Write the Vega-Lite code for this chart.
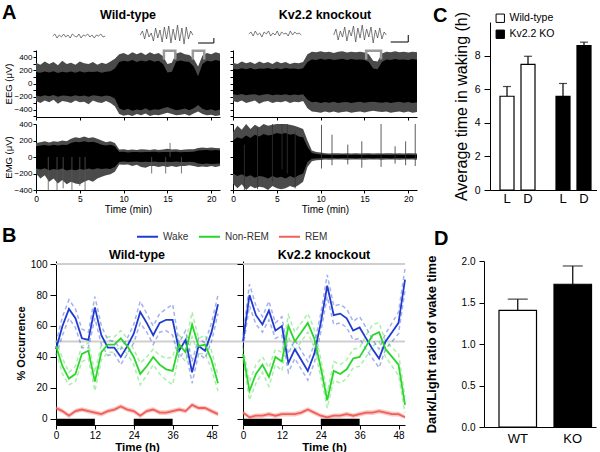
{
"$schema":"https://vega.github.io/schema/vega-lite/v6.json",
"background":"white",
"padding":{"left":2,"top":2,"right":0,"bottom":0},
"datasets":{
"eegWT":[{"t":0,"a":-185,"b":175,"c":-270,"d":320},{"t":0.5,"a":-200,"b":165,"c":-300,"d":290},{"t":1,"a":-180,"b":185,"c":-260,"d":340},{"t":1.5,"a":-195,"b":170,"c":-290,"d":300},{"t":2,"a":-175,"b":190,"c":-250,"d":330},{"t":2.5,"a":-205,"b":160,"c":-310,"d":280},{"t":3,"a":-185,"b":180,"c":-270,"d":350},{"t":3.5,"a":-190,"b":170,"c":-280,"d":300},{"t":4,"a":-200,"b":185,"c":-300,"d":320},{"t":4.5,"a":-180,"b":165,"c":-260,"d":290},{"t":5,"a":-195,"b":190,"c":-290,"d":340},{"t":5.5,"a":-185,"b":170,"c":-280,"d":310},{"t":6,"a":-205,"b":180,"c":-320,"d":300},{"t":6.5,"a":-180,"b":175,"c":-260,"d":330},{"t":7,"a":-190,"b":185,"c":-290,"d":290},{"t":7.5,"a":-200,"b":165,"c":-300,"d":320},{"t":8,"a":-185,"b":180,"c":-270,"d":300},{"t":8.5,"a":-195,"b":190,"c":-300,"d":340},{"t":9,"a":-230,"b":230,"c":-350,"d":380},{"t":9.5,"a":-380,"b":330,"c":-470,"d":450},{"t":10,"a":-410,"b":350,"c":-495,"d":470},{"t":10.5,"a":-390,"b":340,"c":-480,"d":440},{"t":11,"a":-420,"b":360,"c":-500,"d":480},{"t":11.5,"a":-400,"b":330,"c":-470,"d":450},{"t":12,"a":-410,"b":355,"c":-490,"d":475},{"t":12.5,"a":-380,"b":340,"c":-460,"d":440},{"t":13,"a":-415,"b":360,"c":-500,"d":480},{"t":13.5,"a":-395,"b":335,"c":-480,"d":450},{"t":14,"a":-405,"b":350,"c":-490,"d":470},{"t":14.5,"a":-380,"b":300,"c":-470,"d":420},{"t":15,"a":-360,"b":170,"c":-450,"d":300},{"t":15.5,"a":-390,"b":180,"c":-470,"d":320},{"t":16,"a":-410,"b":340,"c":-490,"d":460},{"t":16.5,"a":-400,"b":355,"c":-480,"d":480},{"t":17,"a":-385,"b":340,"c":-470,"d":450},{"t":17.5,"a":-410,"b":330,"c":-495,"d":440},{"t":18,"a":-380,"b":260,"c":-460,"d":380},{"t":18.5,"a":-330,"b":110,"c":-430,"d":260},{"t":19,"a":-390,"b":300,"c":-470,"d":430},{"t":19.5,"a":-410,"b":350,"c":-490,"d":470},{"t":20,"a":-395,"b":340,"c":-480,"d":450},{"t":20.5,"a":-420,"b":360,"c":-500,"d":480},{"t":21,"a":-400,"b":345,"c":-490,"d":460}],
"emgWT":[{"t":0,"a":-140,"b":130,"c":-200,"d":170},{"t":0.5,"a":-150,"b":140,"c":-260,"d":180},{"t":1,"a":-135,"b":145,"c":-220,"d":190},{"t":1.5,"a":-160,"b":135,"c":-300,"d":175},{"t":2,"a":-145,"b":150,"c":-260,"d":190},{"t":2.5,"a":-155,"b":140,"c":-320,"d":185},{"t":3,"a":-140,"b":150,"c":-280,"d":200},{"t":3.5,"a":-165,"b":145,"c":-330,"d":190},{"t":4,"a":-150,"b":170,"c":-300,"d":220},{"t":4.5,"a":-160,"b":185,"c":-320,"d":240},{"t":5,"a":-145,"b":180,"c":-330,"d":230},{"t":5.5,"a":-155,"b":190,"c":-300,"d":250},{"t":6,"a":-140,"b":180,"c":-280,"d":230},{"t":6.5,"a":-150,"b":185,"c":-300,"d":240},{"t":7,"a":-135,"b":170,"c":-260,"d":220},{"t":7.5,"a":-145,"b":150,"c":-240,"d":200},{"t":8,"a":-140,"b":140,"c":-220,"d":180},{"t":8.5,"a":-145,"b":150,"c":-210,"d":190},{"t":9,"a":-120,"b":130,"c":-180,"d":170},{"t":9.5,"a":-60,"b":60,"c":-90,"d":90},{"t":10,"a":-55,"b":65,"c":-95,"d":95},{"t":10.5,"a":-60,"b":55,"c":-90,"d":85},{"t":11,"a":-58,"b":62,"c":-110,"d":90},{"t":11.5,"a":-55,"b":60,"c":-95,"d":85},{"t":12,"a":-62,"b":58,"c":-120,"d":95},{"t":12.5,"a":-58,"b":62,"c":-130,"d":90},{"t":13,"a":-60,"b":60,"c":-110,"d":85},{"t":13.5,"a":-55,"b":65,"c":-110,"d":95},{"t":14,"a":-60,"b":58,"c":-120,"d":85},{"t":14.5,"a":-62,"b":60,"c":-110,"d":90},{"t":15,"a":-58,"b":62,"c":-120,"d":100},{"t":15.5,"a":-60,"b":60,"c":-110,"d":90},{"t":16,"a":-55,"b":65,"c":-120,"d":95},{"t":16.5,"a":-60,"b":58,"c":-110,"d":85},{"t":17,"a":-62,"b":60,"c":-110,"d":90},{"t":17.5,"a":-58,"b":62,"c":-100,"d":95},{"t":18,"a":-60,"b":65,"c":-110,"d":95},{"t":18.5,"a":-80,"b":80,"c":-120,"d":110},{"t":19,"a":-85,"b":82,"c":-115,"d":115},{"t":19.5,"a":-80,"b":85,"c":-120,"d":110},{"t":20,"a":-85,"b":80,"c":-110,"d":115},{"t":20.5,"a":-82,"b":84,"c":-120,"d":110},{"t":21,"a":-80,"b":80,"c":-110,"d":105}],
"eegKO":[{"t":0,"a":-165,"b":225,"c":-270,"d":320},{"t":0.5,"a":-175,"b":215,"c":-290,"d":300},{"t":1,"a":-160,"b":235,"c":-260,"d":340},{"t":1.5,"a":-180,"b":220,"c":-300,"d":310},{"t":2,"a":-170,"b":240,"c":-280,"d":330},{"t":2.5,"a":-165,"b":215,"c":-260,"d":300},{"t":3,"a":-185,"b":230,"c":-310,"d":340},{"t":3.5,"a":-170,"b":225,"c":-280,"d":310},{"t":4,"a":-160,"b":240,"c":-270,"d":330},{"t":4.5,"a":-180,"b":220,"c":-300,"d":300},{"t":5,"a":-170,"b":235,"c":-280,"d":340},{"t":5.5,"a":-175,"b":220,"c":-290,"d":310},{"t":6,"a":-165,"b":240,"c":-270,"d":330},{"t":6.5,"a":-180,"b":225,"c":-300,"d":300},{"t":7,"a":-170,"b":230,"c":-280,"d":320},{"t":7.5,"a":-175,"b":220,"c":-290,"d":310},{"t":8,"a":-165,"b":235,"c":-270,"d":330},{"t":8.5,"a":-250,"b":330,"c":-380,"d":450},{"t":9,"a":-290,"b":370,"c":-430,"d":490},{"t":9.5,"a":-280,"b":360,"c":-440,"d":480},{"t":10,"a":-300,"b":380,"c":-450,"d":495},{"t":10.5,"a":-285,"b":365,"c":-430,"d":480},{"t":11,"a":-295,"b":375,"c":-445,"d":490},{"t":11.5,"a":-280,"b":360,"c":-430,"d":470},{"t":12,"a":-300,"b":370,"c":-450,"d":490},{"t":12.5,"a":-290,"b":380,"c":-440,"d":495},{"t":13,"a":-285,"b":360,"c":-430,"d":475},{"t":13.5,"a":-300,"b":375,"c":-450,"d":490},{"t":14,"a":-290,"b":365,"c":-440,"d":480},{"t":14.5,"a":-280,"b":370,"c":-430,"d":490},{"t":15,"a":-295,"b":360,"c":-445,"d":475},{"t":15.5,"a":-285,"b":330,"c":-430,"d":450},{"t":16,"a":-280,"b":230,"c":-420,"d":350},{"t":16.5,"a":-290,"b":220,"c":-430,"d":340},{"t":17,"a":-295,"b":330,"c":-440,"d":460},{"t":17.5,"a":-285,"b":370,"c":-430,"d":490},{"t":18,"a":-300,"b":360,"c":-450,"d":480},{"t":18.5,"a":-290,"b":375,"c":-440,"d":495},{"t":19,"a":-280,"b":365,"c":-430,"d":480},{"t":19.5,"a":-295,"b":370,"c":-445,"d":490},{"t":20,"a":-285,"b":360,"c":-430,"d":475},{"t":20.5,"a":-300,"b":375,"c":-450,"d":490},{"t":21,"a":-290,"b":365,"c":-440,"d":480}],
"emgKO":[{"t":0,"a":-200,"b":200,"c":-320,"d":300},{"t":0.5,"a":-230,"b":240,"c":-380,"d":380},{"t":1,"a":-210,"b":220,"c":-330,"d":330},{"t":1.5,"a":-240,"b":260,"c":-400,"d":400},{"t":2,"a":-220,"b":230,"c":-350,"d":340},{"t":2.5,"a":-250,"b":270,"c":-380,"d":390},{"t":3,"a":-230,"b":250,"c":-360,"d":360},{"t":3.5,"a":-240,"b":280,"c":-370,"d":400},{"t":4,"a":-260,"b":260,"c":-400,"d":380},{"t":4.5,"a":-230,"b":270,"c":-350,"d":390},{"t":5,"a":-250,"b":290,"c":-380,"d":400},{"t":5.5,"a":-240,"b":280,"c":-390,"d":400},{"t":6,"a":-260,"b":290,"c":-380,"d":400},{"t":6.5,"a":-230,"b":270,"c":-350,"d":390},{"t":7,"a":-250,"b":280,"c":-370,"d":380},{"t":7.5,"a":-220,"b":250,"c":-340,"d":360},{"t":8,"a":-200,"b":240,"c":-300,"d":340},{"t":8.5,"a":-60,"b":120,"c":-120,"d":200},{"t":9,"a":-22,"b":50,"c":-50,"d":80},{"t":9.5,"a":-18,"b":35,"c":-40,"d":60},{"t":10,"a":-15,"b":30,"c":-35,"d":55},{"t":10.5,"a":-12,"b":26,"c":-30,"d":45},{"t":11,"a":-13,"b":24,"c":-32,"d":42},{"t":11.5,"a":-12,"b":25,"c":-30,"d":45},{"t":12,"a":-14,"b":24,"c":-31,"d":44},{"t":12.5,"a":-12,"b":26,"c":-30,"d":42},{"t":13,"a":-13,"b":25,"c":-32,"d":45},{"t":13.5,"a":-12,"b":24,"c":-30,"d":43},{"t":14,"a":-14,"b":26,"c":-31,"d":45},{"t":14.5,"a":-12,"b":25,"c":-30,"d":42},{"t":15,"a":-13,"b":24,"c":-32,"d":44},{"t":15.5,"a":-12,"b":26,"c":-30,"d":45},{"t":16,"a":-14,"b":25,"c":-31,"d":43},{"t":16.5,"a":-12,"b":24,"c":-30,"d":45},{"t":17,"a":-13,"b":26,"c":-32,"d":42},{"t":17.5,"a":-12,"b":25,"c":-30,"d":44},{"t":18,"a":-14,"b":24,"c":-31,"d":45},{"t":18.5,"a":-12,"b":26,"c":-30,"d":43},{"t":19,"a":-13,"b":25,"c":-32,"d":45},{"t":19.5,"a":-12,"b":24,"c":-30,"d":42},{"t":20,"a":-14,"b":26,"c":-31,"d":44},{"t":20.5,"a":-12,"b":25,"c":-30,"d":45},{"t":21,"a":-13,"b":24,"c":-32,"d":43}],
"spk":[{"p":"WT","t":1.4,"lo":-400,"hi":0},{"p":"WT","t":2.4,"lo":-400,"hi":0},{"p":"WT","t":3.1,"lo":-380,"hi":0},{"p":"WT","t":4.1,"lo":-400,"hi":0},{"p":"WT","t":5.0,"lo":-350,"hi":0},{"p":"WT","t":5.6,"lo":-400,"hi":0},{"p":"WT","t":13.2,"lo":-200,"hi":0},{"p":"WT","t":14.8,"lo":-200,"hi":0},{"p":"WT","t":15.3,"lo":0,"hi":170},{"p":"WT","t":16.6,"lo":-200,"hi":0},{"p":"KO","t":1.3,"lo":-400,"hi":150},{"p":"KO","t":2.8,"lo":-390,"hi":350},{"p":"KO","t":4.5,"lo":-300,"hi":400},{"p":"KO","t":5.6,"lo":-150,"hi":400},{"p":"KO","t":6.2,"lo":-200,"hi":400},{"p":"KO","t":7.1,"lo":-380,"hi":300},{"p":"KO","t":10.1,"lo":-140,"hi":390},{"p":"KO","t":11.3,"lo":-100,"hi":270},{"p":"KO","t":13.1,"lo":-90,"hi":150},{"p":"KO","t":14.7,"lo":-130,"hi":190},{"p":"KO","t":16.9,"lo":-120,"hi":400},{"p":"KO","t":18.5,"lo":-80,"hi":130},{"p":"KO","t":19.7,"lo":-100,"hi":190},{"p":"KO","t":20.8,"lo":-110,"hi":400}],
"brk":[{"p":"WT","k":1,"o":0,"x":14.6,"y":370},{"p":"WT","k":1,"o":1,"x":14.6,"y":505},{"p":"WT","k":1,"o":2,"x":15.9,"y":505},{"p":"WT","k":1,"o":3,"x":15.9,"y":370},{"p":"WT","k":2,"o":0,"x":17.9,"y":370},{"p":"WT","k":2,"o":1,"x":17.9,"y":505},{"p":"WT","k":2,"o":2,"x":19.2,"y":505},{"p":"WT","k":2,"o":3,"x":19.2,"y":370},{"p":"KO","k":3,"o":0,"x":15.2,"y":370},{"p":"KO","k":3,"o":1,"x":15.2,"y":505},{"p":"KO","k":3,"o":2,"x":16.9,"y":505},{"p":"KO","k":3,"o":3,"x":16.9,"y":370}],
"bar":[{"p":"WT","o":0,"x":18.5,"y":0},{"p":"WT","o":1,"x":20.3,"y":0},{"p":"WT","o":2,"x":20.3,"y":5},{"p":"KO","o":0,"x":18.0,"y":1},{"p":"KO","o":1,"x":20.0,"y":1},{"p":"KO","o":2,"x":20.0,"y":8}],
"ins":[
{"p":"WT","k":1,"x":1.9,"y":7},{"p":"WT","k":1,"x":2.15,"y":9},{"p":"WT","k":1,"x":2.4,"y":5},{"p":"WT","k":1,"x":2.65,"y":8},{"p":"WT","k":1,"x":2.9,"y":6},{"p":"WT","k":1,"x":3.15,"y":9},{"p":"WT","k":1,"x":3.4,"y":6},{"p":"WT","k":1,"x":3.65,"y":8},{"p":"WT","k":1,"x":3.9,"y":5},{"p":"WT","k":1,"x":4.15,"y":9},{"p":"WT","k":1,"x":4.4,"y":7},{"p":"WT","k":1,"x":4.65,"y":6},{"p":"WT","k":1,"x":4.9,"y":9},{"p":"WT","k":1,"x":5.15,"y":5},{"p":"WT","k":1,"x":5.4,"y":8},{"p":"WT","k":1,"x":5.65,"y":7},{"p":"WT","k":1,"x":5.9,"y":9},{"p":"WT","k":1,"x":6.15,"y":6},{"p":"WT","k":1,"x":6.4,"y":8},{"p":"WT","k":1,"x":6.65,"y":5},{"p":"WT","k":1,"x":6.9,"y":8},{"p":"WT","k":1,"x":7.15,"y":7},{"p":"WT","k":1,"x":7.4,"y":9},{"p":"WT","k":1,"x":7.65,"y":6},{"p":"WT","k":1,"x":7.9,"y":7},
{"p":"WT","k":2,"x":11.9,"y":8},{"p":"WT","k":2,"x":12.15,"y":12},{"p":"WT","k":2,"x":12.4,"y":4},{"p":"WT","k":2,"x":12.65,"y":14},{"p":"WT","k":2,"x":12.9,"y":6},{"p":"WT","k":2,"x":13.15,"y":10},{"p":"WT","k":2,"x":13.4,"y":2},{"p":"WT","k":2,"x":13.65,"y":15},{"p":"WT","k":2,"x":13.9,"y":5},{"p":"WT","k":2,"x":14.15,"y":13},{"p":"WT","k":2,"x":14.4,"y":1},{"p":"WT","k":2,"x":14.65,"y":16},{"p":"WT","k":2,"x":14.9,"y":4},{"p":"WT","k":2,"x":15.15,"y":17},{"p":"WT","k":2,"x":15.4,"y":0},{"p":"WT","k":2,"x":15.65,"y":14},{"p":"WT","k":2,"x":15.9,"y":3},{"p":"WT","k":2,"x":16.15,"y":18},{"p":"WT","k":2,"x":16.4,"y":2},{"p":"WT","k":2,"x":16.65,"y":15},{"p":"WT","k":2,"x":16.9,"y":-1},{"p":"WT","k":2,"x":17.15,"y":16},{"p":"WT","k":2,"x":17.4,"y":4},{"p":"WT","k":2,"x":17.65,"y":12},{"p":"WT","k":2,"x":17.9,"y":8},
{"p":"KO","k":1,"x":1.8,"y":9},{"p":"KO","k":1,"x":2.05,"y":11},{"p":"KO","k":1,"x":2.3,"y":7},{"p":"KO","k":1,"x":2.55,"y":12},{"p":"KO","k":1,"x":2.8,"y":8},{"p":"KO","k":1,"x":3.05,"y":10},{"p":"KO","k":1,"x":3.3,"y":6},{"p":"KO","k":1,"x":3.55,"y":11},{"p":"KO","k":1,"x":3.8,"y":9},{"p":"KO","k":1,"x":4.05,"y":12},{"p":"KO","k":1,"x":4.3,"y":7},{"p":"KO","k":1,"x":4.55,"y":10},{"p":"KO","k":1,"x":4.8,"y":8},{"p":"KO","k":1,"x":5.05,"y":12},{"p":"KO","k":1,"x":5.3,"y":7},{"p":"KO","k":1,"x":5.55,"y":11},{"p":"KO","k":1,"x":5.8,"y":9},{"p":"KO","k":1,"x":6.05,"y":10},{"p":"KO","k":1,"x":6.3,"y":7},{"p":"KO","k":1,"x":6.55,"y":12},{"p":"KO","k":1,"x":6.8,"y":8},{"p":"KO","k":1,"x":7.05,"y":11},{"p":"KO","k":1,"x":7.3,"y":9},{"p":"KO","k":1,"x":7.55,"y":10},{"p":"KO","k":1,"x":7.8,"y":8},
{"p":"KO","k":2,"x":11.5,"y":8},{"p":"KO","k":2,"x":11.75,"y":14},{"p":"KO","k":2,"x":12.0,"y":3},{"p":"KO","k":2,"x":12.25,"y":12},{"p":"KO","k":2,"x":12.5,"y":6},{"p":"KO","k":2,"x":12.75,"y":16},{"p":"KO","k":2,"x":13.0,"y":2},{"p":"KO","k":2,"x":13.25,"y":13},{"p":"KO","k":2,"x":13.5,"y":7},{"p":"KO","k":2,"x":13.75,"y":17},{"p":"KO","k":2,"x":14.0,"y":1},{"p":"KO","k":2,"x":14.25,"y":15},{"p":"KO","k":2,"x":14.5,"y":5},{"p":"KO","k":2,"x":14.75,"y":18},{"p":"KO","k":2,"x":15.0,"y":3},{"p":"KO","k":2,"x":15.25,"y":14},{"p":"KO","k":2,"x":15.5,"y":6},{"p":"KO","k":2,"x":15.75,"y":16},{"p":"KO","k":2,"x":16.0,"y":0},{"p":"KO","k":2,"x":16.25,"y":13},{"p":"KO","k":2,"x":16.5,"y":5},{"p":"KO","k":2,"x":16.75,"y":15},{"p":"KO","k":2,"x":17.0,"y":4},{"p":"KO","k":2,"x":17.25,"y":11},{"p":"KO","k":2,"x":17.5,"y":8}],
"dark":[{"t":0,"t2":12},{"t":24,"t2":36}],
"refs":[{"r":100},{"r":50}],
"occ":[
{"g":"WT","s":"Wake","t":0,"v":45,"lo":41,"hi":49},{"g":"WT","s":"Wake","t":2,"v":60,"lo":54,"hi":66},{"g":"WT","s":"Wake","t":4,"v":71,"lo":65,"hi":77},{"g":"WT","s":"Wake","t":6,"v":65,"lo":59,"hi":71},{"g":"WT","s":"Wake","t":8,"v":52,"lo":46,"hi":58},{"g":"WT","s":"Wake","t":10,"v":51,"lo":46,"hi":56},{"g":"WT","s":"Wake","t":12,"v":72,"lo":65,"hi":79},{"g":"WT","s":"Wake","t":14,"v":54,"lo":48,"hi":60},{"g":"WT","s":"Wake","t":16,"v":46,"lo":41,"hi":51},{"g":"WT","s":"Wake","t":18,"v":46,"lo":42,"hi":50},{"g":"WT","s":"Wake","t":20,"v":40,"lo":35,"hi":45},{"g":"WT","s":"Wake","t":22,"v":47,"lo":42,"hi":52},{"g":"WT","s":"Wake","t":24,"v":55,"lo":49,"hi":61},{"g":"WT","s":"Wake","t":26,"v":69,"lo":62,"hi":76},{"g":"WT","s":"Wake","t":28,"v":62,"lo":56,"hi":68},{"g":"WT","s":"Wake","t":30,"v":54,"lo":48,"hi":60},{"g":"WT","s":"Wake","t":32,"v":62,"lo":56,"hi":68},{"g":"WT","s":"Wake","t":34,"v":64,"lo":57,"hi":71},{"g":"WT","s":"Wake","t":36,"v":64,"lo":54,"hi":74},{"g":"WT","s":"Wake","t":38,"v":44,"lo":39,"hi":49},{"g":"WT","s":"Wake","t":40,"v":51,"lo":45,"hi":57},{"g":"WT","s":"Wake","t":42,"v":30,"lo":23,"hi":37},{"g":"WT","s":"Wake","t":44,"v":47,"lo":42,"hi":52},{"g":"WT","s":"Wake","t":46,"v":44,"lo":39,"hi":49},{"g":"WT","s":"Wake","t":48,"v":56,"lo":50,"hi":62},{"g":"WT","s":"Wake","t":50,"v":74,"lo":68,"hi":80},
{"g":"WT","s":"Non-REM","t":0,"v":47,"lo":43,"hi":51},{"g":"WT","s":"Non-REM","t":2,"v":34,"lo":29,"hi":39},{"g":"WT","s":"Non-REM","t":4,"v":26,"lo":22,"hi":30},{"g":"WT","s":"Non-REM","t":6,"v":29,"lo":24,"hi":34},{"g":"WT","s":"Non-REM","t":8,"v":42,"lo":37,"hi":47},{"g":"WT","s":"Non-REM","t":10,"v":44,"lo":39,"hi":49},{"g":"WT","s":"Non-REM","t":12,"v":24,"lo":18,"hi":30},{"g":"WT","s":"Non-REM","t":14,"v":43,"lo":38,"hi":48},{"g":"WT","s":"Non-REM","t":16,"v":48,"lo":43,"hi":53},{"g":"WT","s":"Non-REM","t":18,"v":48,"lo":43,"hi":53},{"g":"WT","s":"Non-REM","t":20,"v":52,"lo":47,"hi":57},{"g":"WT","s":"Non-REM","t":22,"v":47,"lo":42,"hi":52},{"g":"WT","s":"Non-REM","t":24,"v":40,"lo":35,"hi":45},{"g":"WT","s":"Non-REM","t":26,"v":29,"lo":22,"hi":36},{"g":"WT","s":"Non-REM","t":28,"v":34,"lo":28,"hi":40},{"g":"WT","s":"Non-REM","t":30,"v":40,"lo":35,"hi":45},{"g":"WT","s":"Non-REM","t":32,"v":35,"lo":29,"hi":41},{"g":"WT","s":"Non-REM","t":34,"v":32,"lo":25,"hi":39},{"g":"WT","s":"Non-REM","t":36,"v":31,"lo":22,"hi":40},{"g":"WT","s":"Non-REM","t":38,"v":48,"lo":42,"hi":54},{"g":"WT","s":"Non-REM","t":40,"v":43,"lo":37,"hi":49},{"g":"WT","s":"Non-REM","t":42,"v":61,"lo":53,"hi":69},{"g":"WT","s":"Non-REM","t":44,"v":47,"lo":42,"hi":52},{"g":"WT","s":"Non-REM","t":46,"v":48,"lo":42,"hi":54},{"g":"WT","s":"Non-REM","t":48,"v":38,"lo":32,"hi":44},{"g":"WT","s":"Non-REM","t":50,"v":23,"lo":18,"hi":28},
{"g":"WT","s":"REM","t":0,"v":7,"lo":5.5,"hi":8.5},{"g":"WT","s":"REM","t":2,"v":5,"lo":3.5,"hi":6.5},{"g":"WT","s":"REM","t":4,"v":2,"lo":0.5,"hi":3.5},{"g":"WT","s":"REM","t":6,"v":5,"lo":3.5,"hi":6.5},{"g":"WT","s":"REM","t":8,"v":6,"lo":4.5,"hi":7.5},{"g":"WT","s":"REM","t":10,"v":5,"lo":3.5,"hi":6.5},{"g":"WT","s":"REM","t":12,"v":4,"lo":2.5,"hi":5.5},{"g":"WT","s":"REM","t":14,"v":3,"lo":1.5,"hi":4.5},{"g":"WT","s":"REM","t":16,"v":5,"lo":3.5,"hi":6.5},{"g":"WT","s":"REM","t":18,"v":6,"lo":4.5,"hi":7.5},{"g":"WT","s":"REM","t":20,"v":8,"lo":6.5,"hi":9.5},{"g":"WT","s":"REM","t":22,"v":6,"lo":4.5,"hi":7.5},{"g":"WT","s":"REM","t":24,"v":5,"lo":3.5,"hi":6.5},{"g":"WT","s":"REM","t":26,"v":2,"lo":0.5,"hi":3.5},{"g":"WT","s":"REM","t":28,"v":5,"lo":3.5,"hi":6.5},{"g":"WT","s":"REM","t":30,"v":6,"lo":4.5,"hi":7.5},{"g":"WT","s":"REM","t":32,"v":4,"lo":2.5,"hi":5.5},{"g":"WT","s":"REM","t":34,"v":4,"lo":2.5,"hi":5.5},{"g":"WT","s":"REM","t":36,"v":5,"lo":3.5,"hi":6.5},{"g":"WT","s":"REM","t":38,"v":6,"lo":4.5,"hi":7.5},{"g":"WT","s":"REM","t":40,"v":5,"lo":3.5,"hi":6.5},{"g":"WT","s":"REM","t":42,"v":9,"lo":7.5,"hi":10.5},{"g":"WT","s":"REM","t":44,"v":7,"lo":5.5,"hi":8.5},{"g":"WT","s":"REM","t":46,"v":7,"lo":5.5,"hi":8.5},{"g":"WT","s":"REM","t":48,"v":5,"lo":3.5,"hi":6.5},{"g":"WT","s":"REM","t":50,"v":3,"lo":1.5,"hi":4.5},
{"g":"KO","s":"Wake","t":0,"v":50,"lo":46,"hi":54},{"g":"KO","s":"Wake","t":2,"v":80,"lo":73,"hi":87},{"g":"KO","s":"Wake","t":4,"v":67,"lo":61,"hi":73},{"g":"KO","s":"Wake","t":6,"v":61,"lo":56,"hi":66},{"g":"KO","s":"Wake","t":8,"v":70,"lo":64,"hi":76},{"g":"KO","s":"Wake","t":10,"v":57,"lo":52,"hi":62},{"g":"KO","s":"Wake","t":12,"v":60,"lo":54,"hi":66},{"g":"KO","s":"Wake","t":14,"v":36,"lo":30,"hi":42},{"g":"KO","s":"Wake","t":16,"v":45,"lo":39,"hi":51},{"g":"KO","s":"Wake","t":18,"v":38,"lo":32,"hi":44},{"g":"KO","s":"Wake","t":20,"v":31,"lo":25,"hi":37},{"g":"KO","s":"Wake","t":22,"v":42,"lo":36,"hi":48},{"g":"KO","s":"Wake","t":24,"v":62,"lo":56,"hi":68},{"g":"KO","s":"Wake","t":26,"v":86,"lo":79,"hi":93},{"g":"KO","s":"Wake","t":28,"v":67,"lo":61,"hi":73},{"g":"KO","s":"Wake","t":30,"v":68,"lo":62,"hi":74},{"g":"KO","s":"Wake","t":32,"v":65,"lo":59,"hi":71},{"g":"KO","s":"Wake","t":34,"v":57,"lo":51,"hi":63},{"g":"KO","s":"Wake","t":36,"v":59,"lo":52,"hi":66},{"g":"KO","s":"Wake","t":38,"v":52,"lo":45,"hi":59},{"g":"KO","s":"Wake","t":40,"v":45,"lo":39,"hi":51},{"g":"KO","s":"Wake","t":42,"v":39,"lo":33,"hi":45},{"g":"KO","s":"Wake","t":44,"v":50,"lo":45,"hi":55},{"g":"KO","s":"Wake","t":46,"v":56,"lo":50,"hi":62},{"g":"KO","s":"Wake","t":48,"v":62,"lo":55,"hi":69},{"g":"KO","s":"Wake","t":50,"v":90,"lo":83,"hi":97},
{"g":"KO","s":"Non-REM","t":0,"v":42,"lo":38,"hi":46},{"g":"KO","s":"Non-REM","t":2,"v":18,"lo":12,"hi":24},{"g":"KO","s":"Non-REM","t":4,"v":29,"lo":23,"hi":35},{"g":"KO","s":"Non-REM","t":6,"v":35,"lo":30,"hi":40},{"g":"KO","s":"Non-REM","t":8,"v":27,"lo":21,"hi":33},{"g":"KO","s":"Non-REM","t":10,"v":40,"lo":35,"hi":45},{"g":"KO","s":"Non-REM","t":12,"v":37,"lo":31,"hi":43},{"g":"KO","s":"Non-REM","t":14,"v":60,"lo":53,"hi":67},{"g":"KO","s":"Non-REM","t":16,"v":50,"lo":44,"hi":56},{"g":"KO","s":"Non-REM","t":18,"v":56,"lo":50,"hi":62},{"g":"KO","s":"Non-REM","t":20,"v":62,"lo":56,"hi":68},{"g":"KO","s":"Non-REM","t":22,"v":52,"lo":46,"hi":58},{"g":"KO","s":"Non-REM","t":24,"v":33,"lo":27,"hi":39},{"g":"KO","s":"Non-REM","t":26,"v":12,"lo":7,"hi":17},{"g":"KO","s":"Non-REM","t":28,"v":31,"lo":25,"hi":37},{"g":"KO","s":"Non-REM","t":30,"v":29,"lo":23,"hi":35},{"g":"KO","s":"Non-REM","t":32,"v":32,"lo":26,"hi":38},{"g":"KO","s":"Non-REM","t":34,"v":39,"lo":33,"hi":45},{"g":"KO","s":"Non-REM","t":36,"v":40,"lo":34,"hi":46},{"g":"KO","s":"Non-REM","t":38,"v":47,"lo":40,"hi":54},{"g":"KO","s":"Non-REM","t":40,"v":54,"lo":47,"hi":61},{"g":"KO","s":"Non-REM","t":42,"v":56,"lo":50,"hi":62},{"g":"KO","s":"Non-REM","t":44,"v":45,"lo":40,"hi":50},{"g":"KO","s":"Non-REM","t":46,"v":40,"lo":34,"hi":46},{"g":"KO","s":"Non-REM","t":48,"v":35,"lo":28,"hi":42},{"g":"KO","s":"Non-REM","t":50,"v":9,"lo":4,"hi":14},
{"g":"KO","s":"REM","t":0,"v":4,"lo":2.5,"hi":5.5},{"g":"KO","s":"REM","t":2,"v":1,"lo":0,"hi":2.5},{"g":"KO","s":"REM","t":4,"v":2,"lo":0.5,"hi":3.5},{"g":"KO","s":"REM","t":6,"v":2,"lo":0.5,"hi":3.5},{"g":"KO","s":"REM","t":8,"v":3,"lo":1.5,"hi":4.5},{"g":"KO","s":"REM","t":10,"v":2,"lo":0.5,"hi":3.5},{"g":"KO","s":"REM","t":12,"v":3,"lo":1.5,"hi":4.5},{"g":"KO","s":"REM","t":14,"v":3,"lo":1.5,"hi":4.5},{"g":"KO","s":"REM","t":16,"v":3,"lo":1.5,"hi":4.5},{"g":"KO","s":"REM","t":18,"v":4,"lo":2.5,"hi":5.5},{"g":"KO","s":"REM","t":20,"v":6,"lo":4.5,"hi":7.5},{"g":"KO","s":"REM","t":22,"v":4,"lo":2.5,"hi":5.5},{"g":"KO","s":"REM","t":24,"v":2,"lo":0.5,"hi":3.5},{"g":"KO","s":"REM","t":26,"v":1,"lo":0,"hi":2.5},{"g":"KO","s":"REM","t":28,"v":2,"lo":0.5,"hi":3.5},{"g":"KO","s":"REM","t":30,"v":2,"lo":0.5,"hi":3.5},{"g":"KO","s":"REM","t":32,"v":3,"lo":1.5,"hi":4.5},{"g":"KO","s":"REM","t":34,"v":2,"lo":0.5,"hi":3.5},{"g":"KO","s":"REM","t":36,"v":3,"lo":1.5,"hi":4.5},{"g":"KO","s":"REM","t":38,"v":4,"lo":2.5,"hi":5.5},{"g":"KO","s":"REM","t":40,"v":4,"lo":2.5,"hi":5.5},{"g":"KO","s":"REM","t":42,"v":5,"lo":3.5,"hi":6.5},{"g":"KO","s":"REM","t":44,"v":4,"lo":2.5,"hi":5.5},{"g":"KO","s":"REM","t":46,"v":3,"lo":1.5,"hi":4.5},{"g":"KO","s":"REM","t":48,"v":3,"lo":1.5,"hi":4.5},{"g":"KO","s":"REM","t":50,"v":1,"lo":0,"hi":2.5}],
"wc":[{"g":"WT","p":"L","v":5.58,"hi":6.16},{"g":"WT","p":"D","v":7.48,"hi":7.96},{"g":"KO","p":"L","v":5.57,"hi":6.34},{"g":"KO","p":"D","v":8.6,"hi":8.8}],
"rd":[{"g":"WT","v":1.405,"hi":1.54},{"g":"KO","v":1.72,"hi":1.94}]
},
"concat":[
{"hconcat":[
 {"title":{"text":"A","anchor":"start","frame":"group","fontSize":20,"offset":-14,"dx":-34},
  "hconcat":[
  {"vconcat":[
   {"width":184,"height":21,"title":{"text":"Wild-type","fontSize":12.5,"offset":1},
    "layer":[
     {"data":{"name":"ins"},"transform":[{"filter":"datum.p=='WT'"}],"mark":{"type":"line","color":"#444","strokeWidth":0.7},
      "encoding":{"x":{"field":"x","type":"quantitative","scale":{"domain":[0,21]},"axis":null},"y":{"field":"y","type":"quantitative","scale":{"domain":[0,21]},"axis":null},"detail":{"field":"k"}}},
     {"data":{"name":"bar"},"transform":[{"filter":"datum.p=='WT'"}],"mark":{"type":"line","color":"black","strokeWidth":1},
      "encoding":{"x":{"field":"x","type":"quantitative","scale":{"domain":[0,21]},"axis":null},"y":{"field":"y","type":"quantitative","scale":{"domain":[0,21]},"axis":null},"order":{"field":"o"}}}]},
   {"width":184,"height":67,
    "layer":[
     {"data":{"name":"eegWT"},"mark":{"type":"area","color":"#4a4a4a"},
      "encoding":{"x":{"field":"t","type":"quantitative","scale":{"domain":[0,21]},"axis":{"values":[0,5,10,15,20],"tickCount":50,"labels":false,"title":null,"tickSize":3}},
       "y":{"field":"c","type":"quantitative","scale":{"domain":[-515,515]},"axis":{"values":[-500,-400,-300,-200,-100,0,100,200,300,400,500],"tickCount":50,"format":"d","labelExpr":"(datum.value % 200 == 0 && abs(datum.value) < 500) ? datum.label : ''","title":"EEG (μV)","tickSize":3,"labelFontSize":8,"labelPadding":1,"titleFontSize":9.5,"titlePadding":0}},"y2":{"field":"d"}}},
     {"data":{"name":"eegWT"},"mark":{"type":"area","color":"black"},
      "encoding":{"x":{"field":"t","type":"quantitative","scale":{"domain":[0,21]}},"y":{"field":"a","type":"quantitative","scale":{"domain":[-515,515]}},"y2":{"field":"b"}}},
     {"data":{"name":"brk"},"transform":[{"filter":"datum.p=='WT'"}],"mark":{"type":"line","color":"#9a9a9a","strokeWidth":2.5},
      "encoding":{"x":{"field":"x","type":"quantitative","scale":{"domain":[0,21]}},"y":{"field":"y","type":"quantitative","scale":{"domain":[-515,515]}},"detail":{"field":"k"},"order":{"field":"o"}}}]},
   {"width":184,"height":66,
    "layer":[
     {"data":{"name":"emgWT"},"mark":{"type":"area","color":"#4a4a4a"},
      "encoding":{"x":{"field":"t","type":"quantitative","scale":{"domain":[0,21]},"axis":{"values":[0,5,10,15,20],"tickCount":50,"format":"d","title":"Time (min)","tickSize":3,"labelFontSize":8.5,"labelPadding":1,"titleFontSize":10,"titlePadding":2}},
       "y":{"field":"c","type":"quantitative","scale":{"domain":[-400,400]},"axis":{"values":[-400,-200,0,200,400],"tickCount":50,"format":"d","title":"EMG (μV)","tickSize":3,"labelFontSize":8,"labelPadding":1,"titleFontSize":9.5,"titlePadding":0}},"y2":{"field":"d"}}},
     {"data":{"name":"emgWT"},"mark":{"type":"area","color":"black"},
      "encoding":{"x":{"field":"t","type":"quantitative","scale":{"domain":[0,21]}},"y":{"field":"a","type":"quantitative","scale":{"domain":[-400,400]}},"y2":{"field":"b"}}},
     {"data":{"name":"spk"},"transform":[{"filter":"datum.p=='WT'"}],"mark":{"type":"rule","color":"#555","strokeWidth":0.8},
      "encoding":{"x":{"field":"t","type":"quantitative","scale":{"domain":[0,21]}},"y":{"field":"lo","type":"quantitative","scale":{"domain":[-400,400]}},"y2":{"field":"hi"}}}]}
  ],"spacing":7,"bounds":"flush"},
  {"vconcat":[
   {"width":184,"height":21,"title":{"text":"Kv2.2 knockout","fontSize":12.5,"offset":1},
    "layer":[
     {"data":{"name":"ins"},"transform":[{"filter":"datum.p=='KO'"}],"mark":{"type":"line","color":"#444","strokeWidth":0.7},
      "encoding":{"x":{"field":"x","type":"quantitative","scale":{"domain":[0,21]},"axis":null},"y":{"field":"y","type":"quantitative","scale":{"domain":[0,21]},"axis":null},"detail":{"field":"k"}}},
     {"data":{"name":"bar"},"transform":[{"filter":"datum.p=='KO'"}],"mark":{"type":"line","color":"black","strokeWidth":1},
      "encoding":{"x":{"field":"x","type":"quantitative","scale":{"domain":[0,21]},"axis":null},"y":{"field":"y","type":"quantitative","scale":{"domain":[0,21]},"axis":null},"order":{"field":"o"}}}]},
   {"width":184,"height":67,
    "layer":[
     {"data":{"name":"eegKO"},"mark":{"type":"area","color":"#4a4a4a"},
      "encoding":{"x":{"field":"t","type":"quantitative","scale":{"domain":[0,21]},"axis":{"values":[0,5,10,15,20],"tickCount":50,"labels":false,"title":null,"tickSize":3}},
       "y":{"field":"c","type":"quantitative","scale":{"domain":[-515,515]},"axis":{"values":[-500,-400,-300,-200,-100,0,100,200,300,400,500],"tickCount":50,"labels":false,"title":null,"tickSize":3}},"y2":{"field":"d"}}},
     {"data":{"name":"eegKO"},"mark":{"type":"area","color":"black"},
      "encoding":{"x":{"field":"t","type":"quantitative","scale":{"domain":[0,21]}},"y":{"field":"a","type":"quantitative","scale":{"domain":[-515,515]}},"y2":{"field":"b"}}},
     {"data":{"name":"brk"},"transform":[{"filter":"datum.p=='KO'"}],"mark":{"type":"line","color":"#9a9a9a","strokeWidth":2.5},
      "encoding":{"x":{"field":"x","type":"quantitative","scale":{"domain":[0,21]}},"y":{"field":"y","type":"quantitative","scale":{"domain":[-515,515]}},"detail":{"field":"k"},"order":{"field":"o"}}}]},
   {"width":184,"height":66,
    "layer":[
     {"data":{"name":"emgKO"},"mark":{"type":"area","color":"#4a4a4a"},
      "encoding":{"x":{"field":"t","type":"quantitative","scale":{"domain":[0,21]},"axis":{"values":[0,5,10,15,20],"tickCount":50,"format":"d","title":"Time (min)","tickSize":3,"labelFontSize":8.5,"labelPadding":1,"titleFontSize":10,"titlePadding":2}},
       "y":{"field":"c","type":"quantitative","scale":{"domain":[-400,400]},"axis":{"values":[-400,-200,0,200,400],"tickCount":50,"labels":false,"title":null,"tickSize":3}},"y2":{"field":"d"}}},
     {"data":{"name":"emgKO"},"mark":{"type":"area","color":"black"},
      "encoding":{"x":{"field":"t","type":"quantitative","scale":{"domain":[0,21]}},"y":{"field":"a","type":"quantitative","scale":{"domain":[-400,400]}},"y2":{"field":"b"}}},
     {"data":{"name":"spk"},"transform":[{"filter":"datum.p=='KO'"}],"mark":{"type":"rule","color":"#333","strokeWidth":0.8},
      "encoding":{"x":{"field":"t","type":"quantitative","scale":{"domain":[0,21]}},"y":{"field":"lo","type":"quantitative","scale":{"domain":[-400,400]}},"y2":{"field":"hi"}}}]}
  ],"spacing":7,"bounds":"flush"}
  ],"spacing":9},
 {"width":107,"height":168,
  "title":{"text":"C","anchor":"start","frame":"group","fontSize":20,"dx":-57,"offset":-15},
  "data":{"name":"wc"},
  "encoding":{"x":{"field":"g","type":"nominal","sort":["WT","KO"],"scale":{"paddingInner":0.375,"paddingOuter":0.143,"align":0.625},"axis":{"title":null,"labels":false,"ticks":false}},
   "xOffset":{"field":"p","type":"nominal","sort":["L","D"],"scale":{"paddingInner":0.333,"paddingOuter":0}}},
  "layer":[
   {"mark":{"type":"bar","stroke":"black","strokeWidth":1.2},
    "encoding":{"y":{"field":"v","type":"quantitative","scale":{"domain":[0,9.1]},"axis":{"values":[0,2,4,6,8],"tickCount":50,"format":"d","title":"Average time in waking (h)","titleFontSize":16,"labelFontSize":10.5,"tickSize":6,"labelPadding":4,"titlePadding":5}},
     "fill":{"field":"g","type":"nominal","scale":{"domain":["WT","KO"],"range":["white","black"]},
      "legend":{"orient":"none","legendX":5,"legendY":-9,"title":null,"symbolType":"square","symbolSize":70,"symbolStrokeColor":"black","symbolStrokeWidth":1,"labelFontSize":10.5,"rowPadding":3,"labelExpr":"datum.value == 'WT' ? 'Wild-type' : 'Kv2.2 KO'"}}}},
   {"mark":{"type":"rule","color":"black","strokeWidth":1.2},"encoding":{"y":{"field":"v","type":"quantitative"},"y2":{"field":"hi"}}},
   {"mark":{"type":"tick","color":"black","thickness":1.2,"size":8},"encoding":{"y":{"field":"hi","type":"quantitative"}}},
   {"mark":{"type":"text","fontSize":13,"baseline":"top","dy":3},"encoding":{"y":{"datum":0,"type":"quantitative"},"text":{"field":"p"}}}
  ]}
],"spacing":16,
 "resolve":{"scale":{"fill":"independent"},"legend":{"fill":"independent"}}},
{"hconcat":[
 {"title":{"text":"B","anchor":"start","frame":"group","fontSize":20,"dx":-34,"offset":-21},
  "hconcat":[
  {"width":1,"height":1,"data":{"values":[]},"mark":"point"},
  {"hconcat":[
  {"width":162,"height":164,"title":{"text":"Wild-type","fontSize":12.5,"offset":-36},
   "data":{"name":"occ"},
   "layer":[
    {"data":{"name":"dark"},"mark":{"type":"rect","color":"black"},"encoding":{"x":{"field":"t","type":"quantitative","scale":{"domain":[0,50]}},"x2":{"field":"t2"},"y":{"datum":-4,"type":"quantitative","scale":{"domain":[-4,102]}},"y2":{"datum":0}}},
    {"data":{"name":"refs"},"mark":{"type":"rule","color":"#cfcfcf","strokeWidth":2},"encoding":{"y":{"field":"r","type":"quantitative","scale":{"domain":[-4,102]}},"x":{"datum":0,"type":"quantitative"},"x2":{"datum":58}}},
    {"transform":[{"filter":"datum.g=='WT' && datum.s=='REM'"}],"mark":{"type":"area","opacity":0.35},"encoding":{"x":{"field":"t","type":"quantitative","scale":{"domain":[0,50]}},"y":{"field":"lo","type":"quantitative","scale":{"domain":[-4,102]}},"y2":{"field":"hi"},"fill":{"field":"s","type":"nominal","legend":null,"scale":{"domain":["Wake","Non-REM","REM"],"range":["#1f3bd1","#2bd62b","#f0605a"]}}}},
    {"transform":[{"filter":"datum.g=='WT' && datum.s!='REM'"}],"mark":{"type":"line","opacity":0.4,"strokeWidth":1.5,"strokeDash":[4,3]},"encoding":{"x":{"field":"t","type":"quantitative","scale":{"domain":[0,50]}},"y":{"field":"lo","type":"quantitative","scale":{"domain":[-4,102]}},"stroke":{"field":"s","type":"nominal","legend":null,"scale":{"domain":["Wake","Non-REM","REM"],"range":["#1f3bd1","#2bd62b","#f0605a"]}}}},
    {"transform":[{"filter":"datum.g=='WT' && datum.s!='REM'"}],"mark":{"type":"line","opacity":0.4,"strokeWidth":1.5,"strokeDash":[4,3]},"encoding":{"x":{"field":"t","type":"quantitative","scale":{"domain":[0,50]}},"y":{"field":"hi","type":"quantitative","scale":{"domain":[-4,102]}},"stroke":{"field":"s","type":"nominal","legend":null}}},
    {"transform":[{"filter":"datum.g=='WT'"}],"mark":{"type":"line","strokeWidth":1.8},
     "encoding":{"x":{"field":"t","type":"quantitative","scale":{"domain":[0,50]},"axis":{"values":[0,12,24,36,48],"tickCount":50,"format":"d","title":"Time (h)","titleFontWeight":"bold","titleFontSize":11.5,"labelFontSize":10,"tickSize":4,"labelPadding":1,"titlePadding":1}},
      "y":{"field":"v","type":"quantitative","scale":{"domain":[-4,102]},"axis":{"values":[0,20,40,60,80,100],"tickCount":50,"format":"d","title":"% Occurrence","titleFontWeight":"bold","titleFontSize":11,"labelFontSize":10,"tickSize":6,"labelPadding":3,"titlePadding":4}},
      "color":{"field":"s","type":"nominal","scale":{"domain":["Wake","Non-REM","REM"],"range":["#1f3bd1","#2bd62b","#f0605a"]},
       "legend":{"orient":"none","legendX":80,"legendY":-36,"direction":"horizontal","title":null,"symbolType":"stroke","symbolSize":441,"symbolStrokeWidth":2,"labelFontSize":10,"labelColor":"#333","columnPadding":6,"labelOffset":4}}}}
   ]},
  {"width":162,"height":164,"title":{"text":"Kv2.2 knockout","fontSize":12.5,"offset":0},
   "data":{"name":"occ"},
   "layer":[
    {"data":{"name":"dark"},"mark":{"type":"rect","color":"black"},"encoding":{"x":{"field":"t","type":"quantitative","scale":{"domain":[0,50]}},"x2":{"field":"t2"},"y":{"datum":-4,"type":"quantitative","scale":{"domain":[-4,102]}},"y2":{"datum":0}}},
    {"data":{"name":"refs"},"mark":{"type":"rule","color":"#cfcfcf","strokeWidth":2},"encoding":{"y":{"field":"r","type":"quantitative","scale":{"domain":[-4,102]}},"x":{"datum":0,"type":"quantitative"},"x2":{"datum":50}}},
    {"transform":[{"filter":"datum.g=='KO' && datum.s=='REM'"}],"mark":{"type":"area","opacity":0.35},"encoding":{"x":{"field":"t","type":"quantitative","scale":{"domain":[0,50]}},"y":{"field":"lo","type":"quantitative","scale":{"domain":[-4,102]}},"y2":{"field":"hi"},"fill":{"field":"s","type":"nominal","legend":null}}},
    {"transform":[{"filter":"datum.g=='KO' && datum.s!='REM'"}],"mark":{"type":"line","opacity":0.4,"strokeWidth":1.5,"strokeDash":[4,3]},"encoding":{"x":{"field":"t","type":"quantitative","scale":{"domain":[0,50]}},"y":{"field":"lo","type":"quantitative","scale":{"domain":[-4,102]}},"stroke":{"field":"s","type":"nominal","legend":null}}},
    {"transform":[{"filter":"datum.g=='KO' && datum.s!='REM'"}],"mark":{"type":"line","opacity":0.4,"strokeWidth":1.5,"strokeDash":[4,3]},"encoding":{"x":{"field":"t","type":"quantitative","scale":{"domain":[0,50]}},"y":{"field":"hi","type":"quantitative","scale":{"domain":[-4,102]}},"stroke":{"field":"s","type":"nominal","legend":null}}},
    {"transform":[{"filter":"datum.g=='KO'"}],"mark":{"type":"line","strokeWidth":1.8},
     "encoding":{"x":{"field":"t","type":"quantitative","scale":{"domain":[0,50]},"axis":{"values":[0,12,24,36,48],"tickCount":50,"format":"d","title":"Time (h)","titleFontWeight":"bold","titleFontSize":11.5,"labelFontSize":10,"tickSize":4,"labelPadding":1,"titlePadding":1}},
      "y":{"field":"v","type":"quantitative","scale":{"domain":[-4,102]},"axis":{"values":[0,20,40,60,80,100],"tickCount":50,"labels":false,"title":null,"tickSize":6}},
      "color":{"field":"s","type":"nominal","legend":null}}}
   ]}
  ],"spacing":25,"bounds":"flush","resolve":{"legend":{"color":"independent"}}}
  ],"spacing":19,"bounds":"flush"},
 {"width":112,"height":166,
  "title":{"text":"D","anchor":"start","frame":"group","fontSize":20,"dx":-50,"offset":6},
  "data":{"name":"rd"},
  "encoding":{"x":{"field":"g","type":"nominal","sort":["WT","KO"],"scale":{"paddingInner":0.318,"paddingOuter":0.177,"align":0.77},"axis":{"title":null,"ticks":false,"labelAngle":0,"labelFontSize":13,"labelPadding":5}}},
  "layer":[
   {"mark":{"type":"bar","stroke":"black","strokeWidth":1.2},
    "encoding":{"y":{"field":"v","type":"quantitative","scale":{"domain":[0,2]},"axis":{"values":[0,0.5,1,1.5,2],"tickCount":50,"format":".1f","title":"Dark/Light ratio of wake time","titleFontWeight":"bold","titleFontSize":13,"labelFontSize":10,"tickSize":5,"labelPadding":4,"titlePadding":23}},
     "fill":{"field":"g","type":"nominal","scale":{"domain":["WT","KO"],"range":["white","black"]},"legend":null}}},
   {"mark":{"type":"rule","color":"black","strokeWidth":1.2},"encoding":{"y":{"field":"v","type":"quantitative"},"y2":{"field":"hi"}}},
   {"mark":{"type":"tick","color":"black","thickness":1.2,"size":20},"encoding":{"y":{"field":"hi","type":"quantitative"}}}
  ]}
],"spacing":16,
 "resolve":{"scale":{"fill":"independent","color":"independent","stroke":"independent"},"legend":{"fill":"independent","color":"independent","stroke":"independent"}}}
],
"columns":1,
"align":"none",
"spacing":10,
"resolve":{"scale":{"fill":"independent","color":"independent","stroke":"independent"},"legend":{"fill":"independent","color":"independent","stroke":"independent"}},
"config":{
 "font":"Liberation Sans",
 "view":{"stroke":null},
 "axis":{"domainColor":"black","tickColor":"black","labelColor":"black","titleColor":"black","grid":false,"minExtent":0,"labelOverlap":false,"labelFlush":false,"titleFontWeight":"normal","domainWidth":1,"tickWidth":1},
 "title":{"color":"black","fontWeight":"bold"},
 "legend":{"padding":0}
}
}
